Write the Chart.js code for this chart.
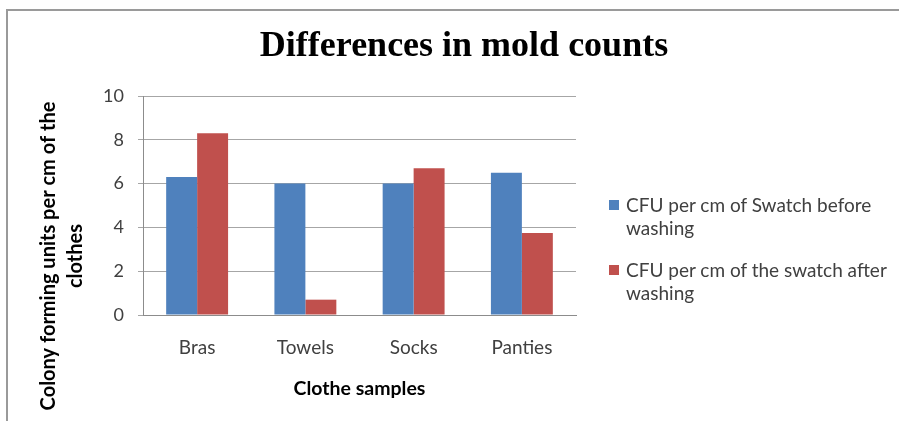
<!DOCTYPE html>
<html>
<head>
<meta charset="utf-8">
<script src="https://cdn.jsdelivr.net/npm/chart.js@4"></script>
<style>
  html, body { margin: 0; padding: 0; background: #fff; }
  #wrap { position: relative; width: 899px; height: 421px; overflow: hidden; }
  #frame { position: absolute; left: 6px; top: 9px; right: -5px; bottom: -5px;
           border-top: 2px solid #9a9a9a; border-left: 2px solid #9a9a9a; pointer-events: none; }
  #legend { position: absolute; left: 609px; top: 193px; font-family: Lato, sans-serif;
            font-size: 19px; color: #404040; line-height: 23px; }
  .item { position: relative; padding-left: 17px; margin-bottom: 19px; width: 285px; }
  .sw { position: absolute; left: 0; top: 7px; width: 10px; height: 10px; }
</style>
</head>
<body>
<div id="wrap">
  <canvas id="c" width="899" height="421"></canvas>
  <div id="frame"></div>
  <div id="legend"></div>
</div>
<script>
const categories = ["Bras", "Towels", "Socks", "Panties"];
const beforeWashing = [6.3, 6.0, 6.0, 6.5];
const afterWashing = [8.3, 0.7, 6.7, 3.75];
const seriesLabels = [
  ["CFU per cm of Swatch before", "washing"],
  ["CFU per cm of the swatch after", "washing"]
];
const yTicks = [0, 2, 4, 6, 8, 10];
const titleText = "Differences in mold counts";
const yTitle = ["Colony forming units per cm of the", "clothes"];
const xTitle = "Clothe samples";
const colors = ["#4F81BD", "#C0504D"];

const textPlugin = {
  id: 'texts',
  afterDraw(chart) {
    const ctx = chart.ctx;
    ctx.save();
    ctx.fillStyle = '#000';
    ctx.font = 'bold 36px "Liberation Serif", serif';
    ctx.textAlign = 'center';
    ctx.textBaseline = 'alphabetic';
    ctx.fillText(titleText, 464, 56);
    ctx.restore();

    ctx.save();
    ctx.fillStyle = '#000';
    ctx.font = 'bold 20px Lato, sans-serif';
    ctx.textAlign = 'center';
    ctx.textBaseline = 'alphabetic';
    ctx.translate(0, 256);
    ctx.rotate(-Math.PI / 2);
    ctx.fillText(yTitle[0], 0, 55);
    ctx.fillText(yTitle[1], 0, 82);
    ctx.restore();
  }
};

const chart = new Chart(document.getElementById('c'), {
  type: 'bar',
  data: {
    labels: categories,
    datasets: [
      { label: seriesLabels[0].join(' '), data: beforeWashing, backgroundColor: colors[0] },
      { label: seriesLabels[1].join(' '), data: afterWashing, backgroundColor: colors[1] }
    ]
  },
  options: {
    responsive: false,
    animation: false,
    events: [],
    layout: { padding: { left: 0, right: 323, top: 96, bottom: 0 } },
    datasets: { bar: { categoryPercentage: 0.572, barPercentage: 1.0 } },
    plugins: {
      legend: { display: false },
      tooltip: { enabled: false },
      title: { display: false }
    },
    scales: {
      x: {
        grid: { display: false, drawTicks: false },
        border: { display: true, color: '#8c8c8c', width: 1 },
        ticks: { color: '#404040', font: { family: 'Lato, sans-serif', size: 19 }, padding: 21 },
        title: { display: true, text: xTitle, color: '#000',
                 font: { family: 'Lato, sans-serif', size: 19.5, weight: 'bold' },
                 padding: { top: 0, bottom: 21 } },
        afterFit(s) { s.height = 106; }
      },
      y: {
        min: 0, max: 10,
        afterBuildTicks(s) { s.ticks = yTicks.map(v => ({ value: v })); },
        grid: { color: '#a6a6a6', lineWidth: 1, tickLength: 5, drawTicks: true },
        border: { display: true, color: '#8c8c8c', width: 1 },
        ticks: { color: '#404040', font: { family: 'Lato, sans-serif', size: 18 }, padding: 14 },
        afterFit(s) { s.width = 143; }
      }
    }
  },
  plugins: [textPlugin]
});

const leg = document.getElementById('legend');
chart.data.datasets.forEach((ds, i) => {
  const d = document.createElement('div');
  d.className = 'item';
  const sw = document.createElement('span');
  sw.className = 'sw';
  sw.style.background = ds.backgroundColor;
  d.appendChild(sw);
  seriesLabels[i].forEach((line, j) => {
    if (j) d.appendChild(document.createElement('br'));
    d.appendChild(document.createTextNode(line));
  });
  leg.appendChild(d);
});
</script>
</body>
</html>
